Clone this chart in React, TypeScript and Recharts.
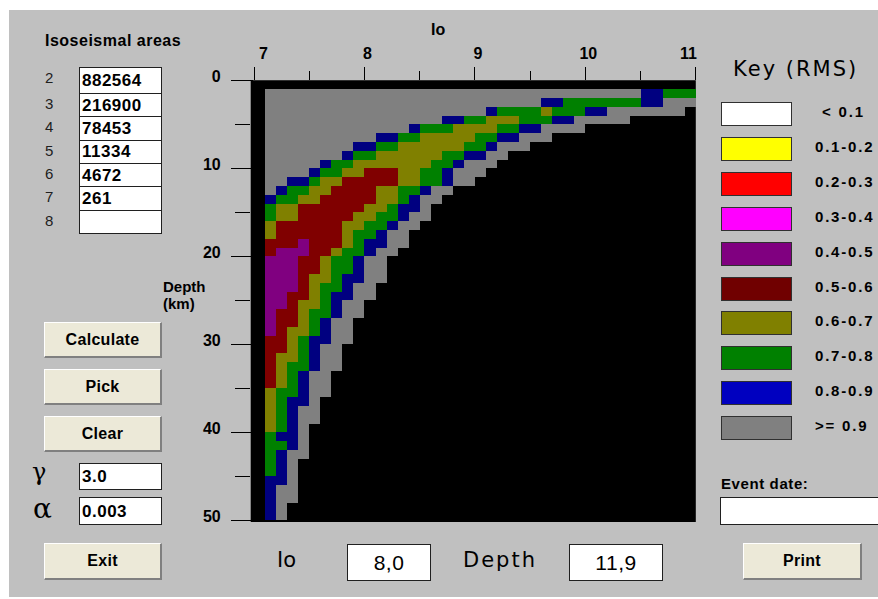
import React from 'react';
import { ComposedChart, XAxis, YAxis, ReferenceArea } from 'recharts';

// ---------- data ----------
const INTENSITIES = ['2', '3', '4', '5', '6', '7', '8'];
const AREAS = ['882564', '216900', '78453', '11334', '4672', '261', ''];
const GAMMA = '3.0';
const ALPHA = '0.003';
const IO_VALUE = '8,0';
const DEPTH_VALUE = '11,9';
const KEY_LABELS = ['< 0.1', '0.1-0.2', '0.2-0.3', '0.3-0.4', '0.4-0.5', '0.5-0.6', '0.6-0.7', '0.7-0.8', '0.8-0.9', '>= 0.9'];
const KEY_COLORS = ['#ffffff', '#ffff00', '#ff0000', '#ff00ff', '#800080', '#700000', '#808000', '#008000', '#0000c0', '#808080'];
const IO_TICKS = [7, 7.5, 8, 8.5, 9, 9.5, 10, 10.5, 11];
const DEPTH_TICKS = [0, 5, 10, 15, 20, 25, 30, 35, 40, 45, 50];
const IO_START = 7.1;
const IO_STEP = 0.1;
const DEPTH_START = 1;
const DEPTH_STEP = 1;
// RMS class codes used in the grid
const CLASS_COLORS: Record<string, string> = {
  P: '#800080', // 0.4-0.5
  R: '#800000', // 0.5-0.6
  O: '#808000', // 0.6-0.7
  N: '#008000', // 0.7-0.8
  B: '#000080', // 0.8-0.9
  G: '#808080', // >= 0.9
};
// one row per 1 km of depth (starting at 1 km); runs of cells of 0.1 Io, starting at Io 7.1. K = no value
const ROWS: string[] = [
  'G34 B2 N3',
  'G25 B2 N7 B2 G3',
  'G20 B1 N4 O1 N3 B2 G7 K1',
  'G16 B2 N2 O3 N3 B2 G5',
  'G13 B1 N3 O4 N2 B2 G4',
  'G10 B2 N2 O5 N2 B2 G3',
  'G8 B2 N2 O6 N2 B1 G3',
  'G7 B1 N2 O6 N2 B2 G2',
  'G5 B1 N2 O7 N2 B1 G3',
  'G4 B1 N2 O2 R3 O2 N2 B1 G3',
  'G2 B2 N1 O2 R5 O2 N2 B1 G2',
  'G1 B1 N2 O2 R4 O2 N2 B1 G2',
  'B1 N2 O2 R5 O2 N1 B1 G2',
  'N1 O2 R6 O2 N1 B2 G1',
  'N1 O2 R5 O2 N2 B1 G2',
  'O1 R6 O2 N2 B1 G2',
  'O1 R6 O1 N2 B1 G2',
  'R3 P1 R3 O1 N1 B2 G2',
  'R1 P3 R2 O1 N2 B1 G2',
  'P3 R2 O1 N2 B1 G2',
  'P3 R2 O1 N2 B1 G2',
  'P3 R1 O2 N1 B2 G2',
  'P3 R1 O1 N2 B1 G2',
  'P2 R2 O1 N1 B2 G2',
  'P2 R1 O2 N1 B1 G2',
  'P1 R2 O1 N2 B1 G2',
  'P1 R2 O1 N1 B1 G2',
  'P1 R1 O2 N1 B1 G2',
  'R2 O1 N1 B2 G2',
  'R2 O1 N1 B1 G2',
  'R1 O2 N1 B1 G2',
  'R1 O1 N2 B1 G2',
  'R1 O1 N1 B1 G2',
  'R1 O1 N1 B1 G2',
  'O1 N2 B1 G2',
  'O1 N1 B2 G1',
  'O1 N1 B1 G2',
  'O1 N1 B1 G2',
  'O1 N1 B1 G1',
  'N1 B2 G1',
  'N2 B1 G1',
  'N1 B1 G2',
  'N1 B1 G1',
  'N1 B1 G1',
  'B2 G1',
  'B1 G2',
  'B1 G2',
  'B1 G1',
  'B1 G1',
];

// ---------- build cells from runs ----------
type Run = { x1: number; x2: number; y1: number; y2: number; fill: string };
const RUNS: Run[] = [];
ROWS.forEach((row, r) => {
  let col = 0;
  row.split(' ').forEach((tok) => {
    const code = tok[0];
    const n = parseInt(tok.slice(1), 10);
    if (code !== 'K') {
      RUNS.push({
        x1: Math.round((IO_START + col * IO_STEP) * 100) / 100,
        x2: Math.round((IO_START + (col + n) * IO_STEP) * 100) / 100,
        y1: DEPTH_START + r * DEPTH_STEP,
        y2: DEPTH_START + (r + 1) * DEPTH_STEP,
        fill: CLASS_COLORS[code],
      });
    }
    col += n;
  });
});

// ---------- layout helpers (page coordinates) ----------
const FONT = '"Liberation Sans", Arial, sans-serif';
const P = (x: number, y: number, w?: number, h?: number): React.CSSProperties => ({
  position: 'absolute',
  left: x,
  top: y,
  width: w,
  height: h,
});

const Button = ({ x, y, w, h, label }: { x: number; y: number; w: number; h: number; label: string }) => (
  <div
    style={{
      ...P(x, y, w, h),
      boxSizing: 'border-box',
      background: '#ece9d8',
      borderTop: '1px solid #ffffff',
      borderLeft: '1px solid #ffffff',
      borderRight: '2px solid #808080',
      borderBottom: '2px solid #808080',
      display: 'flex',
      alignItems: 'center',
      justifyContent: 'center',
      fontWeight: 'bold',
      fontSize: 16,
      letterSpacing: 0.3,
      color: '#000',
    }}
  >
    {label}
  </div>
);

const Box = ({ x, y, w, h, text, align = 'left', size = 17, bold = true, spacing = 0.5 }: any) => (
  <div
    style={{
      ...P(x, y, w, h),
      boxSizing: 'border-box',
      background: '#ffffff',
      border: '1px solid #202020',
      display: 'flex',
      alignItems: 'center',
      justifyContent: align === 'center' ? 'center' : 'flex-start',
      paddingLeft: align === 'center' ? 0 : 2,
      fontWeight: bold ? 'bold' : 'normal',
      fontSize: size,
      letterSpacing: spacing,
      color: '#000',
      lineHeight: 1,
    }}
  >
    {text}
  </div>
);

const XTick = (props: any) => {
  const { x, y, payload } = props;
  const v = payload.value;
  const major = Number.isInteger(v);
  const first = v === IO_TICKS[0];
  const last = v === IO_TICKS[IO_TICKS.length - 1];
  return (
    <g>
      <line x1={x} x2={x} y1={y} y2={y - (major ? 13 : 9)} stroke="#000" strokeWidth={1} shapeRendering="crispEdges" />
      {major && (
        <text
          x={first ? x + 5 : last ? x + 1 : x + 3}
          y={y - 21}
          textAnchor={first ? 'start' : last ? 'end' : 'middle'}
          fontFamily={FONT}
          fontWeight="bold"
          fontSize={16}
          fill="#000"
        >
          {v}
        </text>
      )}
    </g>
  );
};

const YTick = (props: any) => {
  const { x, y, payload } = props;
  const major = payload.value % 10 === 0;
  return (
    <g>
      <line
        x1={major ? x - 20 : x - 16}
        x2={major ? x + 2 : x - 1}
        y1={y}
        y2={y}
        stroke="#000"
        strokeWidth={1}
        shapeRendering="crispEdges"
      />
      {major && (
        <text x={x - 30} y={y + 2} textAnchor="end" fontFamily={FONT} fontWeight="bold" fontSize={16} fill="#000">
          {payload.value}
        </text>
      )}
    </g>
  );
};

export default function App() {
  const boxTop = (i: number) => (i === 0 ? 67 : 69.8 + 23.3 * i);
  return (
    <div style={{ position: 'fixed', left: 0, top: 0, width: 878, height: 599, fontFamily: FONT, overflow: 'hidden', background: '#ffffff' }}>
      <div style={{ ...P(9, 10, 869, 587), background: '#c0c0c0' }} />

      {/* Isoseismal areas */}
      <div style={{ ...P(45, 32), fontWeight: 'bold', fontSize: 16, letterSpacing: 0.5, whiteSpace: 'nowrap', color: '#000' }}>
        Isoseismal areas
      </div>
      {INTENSITIES.map((lab, i) => (
        <div key={lab} style={{ ...P(45, boxTop(i) + 2), fontSize: 15, color: '#202020' }}>
          {lab}
        </div>
      ))}
      {AREAS.map((v, i) => (
        <Box key={i} x={79} y={boxTop(i)} w={83} h={boxTop(i + 1) - boxTop(i) + 1} text={v} />
      ))}

      {/* buttons and parameters */}
      <Button x={44} y={322} w={118} h={36} label="Calculate" />
      <Button x={44} y={369} w={118} h={36} label="Pick" />
      <Button x={44} y={416} w={118} h={36} label="Clear" />
      <div style={{ ...P(32, 458), fontFamily: '"DejaVu Serif", serif', fontSize: 24, color: '#000' }}>γ</div>
      <Box x={79} y={463} w={83} h={27} text={GAMMA} />
      <div style={{ ...P(33, 492), fontFamily: '"DejaVu Serif", serif', fontSize: 28, color: '#000' }}>α</div>
      <Box x={79} y={497} w={83} h={28} text={ALPHA} />
      <Button x={44} y={543} w={118} h={37} label="Exit" />

      {/* axis titles */}
      <div style={{ ...P(431, 21), fontWeight: 'bold', fontSize: 16, color: '#000' }}>Io</div>
      <div style={{ ...P(163, 278), fontWeight: 'bold', fontSize: 15, lineHeight: '17px', color: '#000' }}>
        Depth
        <br />
        (km)
      </div>

      {/* chart */}
      <div style={{ ...P(150, 10, 560, 530) }}>
        <ComposedChart
          width={560}
          height={530}
          data={RUNS}
          margin={{ top: 40.3, right: 14.2, bottom: 17.9, left: 40.7 }}
        >
          <XAxis
            type="number"
            dataKey="x1"
            orientation="top"
            domain={[6.97, 11]}
            ticks={IO_TICKS}
            interval={0}
            allowDataOverflow
            height={30}
            tickSize={0}
            tickMargin={0}
            axisLine={false}
            tickLine={false}
            tick={<XTick />}
          />
          <YAxis
            type="number"
            dataKey="y1"
            reversed
            domain={[0, 50.2]}
            ticks={DEPTH_TICKS}
            interval={0}
            allowDataOverflow
            width={60}
            tickSize={0}
            tickMargin={0}
            axisLine={false}
            tickLine={false}
            tick={<YTick />}
          />
          <ReferenceArea x1={6.97} x2={11} y1={0} y2={50.2} fill="#000000" fillOpacity={1} stroke="none" />
          {RUNS.map((c, i) => (
            <ReferenceArea
              key={i}
              x1={c.x1}
              x2={c.x2}
              y1={c.y1}
              y2={c.y2}
              fill={c.fill}
              fillOpacity={1}
              stroke="none"
              shapeRendering="crispEdges"
            />
          ))}
        </ComposedChart>
      </div>

      {/* bottom readouts */}
      <div style={{ ...P(277, 548), fontFamily: '"DejaVu Sans", sans-serif', fontSize: 21, color: '#000' }}>Io</div>
      <Box x={347} y={544} w={84} h={37} text={IO_VALUE} align="center" size={21} bold={false} spacing={0.5} />
      <div style={{ ...P(463, 548), fontFamily: '"DejaVu Sans", sans-serif', fontSize: 21, color: '#000', letterSpacing: 2 }}>
        Depth
      </div>
      <Box x={569} y={544} w={94} h={37} text={DEPTH_VALUE} align="center" size={21} bold={false} spacing={0.5} />

      {/* key */}
      <div style={{ ...P(733, 57), fontFamily: '"DejaVu Sans", sans-serif', fontSize: 21, letterSpacing: 2, color: '#000', whiteSpace: 'nowrap' }}>
        Key (RMS)
      </div>
      {KEY_LABELS.map((lab, i) => {
        const top = 102 + i * 34.9;
        return (
          <React.Fragment key={lab}>
            <div
              style={{
                ...P(721, top, 71, 24),
                boxSizing: 'border-box',
                background: KEY_COLORS[i],
                border: '1px solid #303030',
              }}
            />
            <div
              style={{
                ...P(i === 0 ? 822 : 815, top + 1),
                fontWeight: 'bold',
                fontSize: 15,
                letterSpacing: 1.8,
                color: '#000',
                whiteSpace: 'nowrap',
              }}
            >
              {lab}
            </div>
          </React.Fragment>
        );
      })}
      <div style={{ ...P(721, 475), fontWeight: 'bold', fontSize: 15, letterSpacing: 0.6, color: '#000', whiteSpace: 'nowrap' }}>
        Event date:
      </div>
      <Box x={720} y={497} w={170} h={28} text="" />
      <Button x={743} y={543} w={119} h={37} label="Print" />
    </div>
  );
}
